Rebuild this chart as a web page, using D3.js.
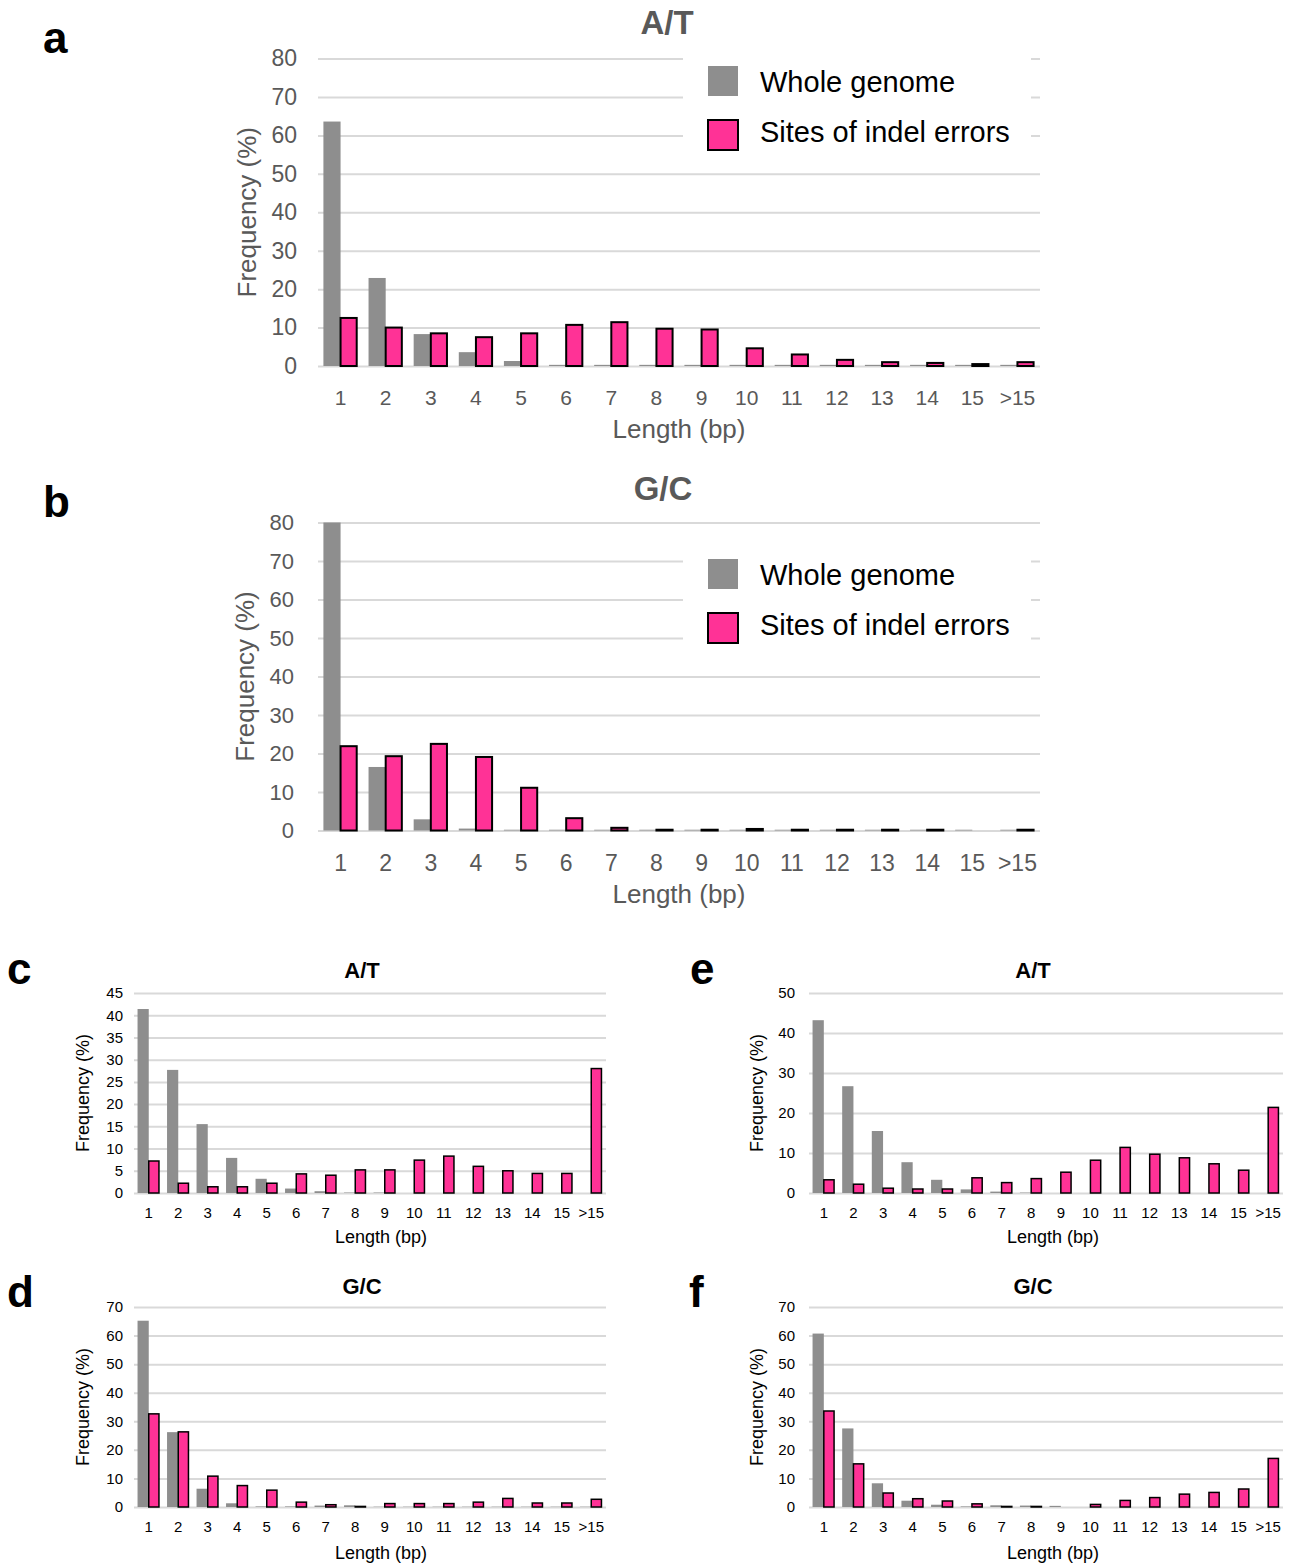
<!DOCTYPE html>
<html><head><meta charset="utf-8">
<script src="https://cdn.jsdelivr.net/npm/d3@7"></script>
<style>body{margin:0;background:#fff}svg{display:block}text{font-family:"Liberation Sans",Arial,sans-serif}</style>
</head><body>
<svg id="c" width="1295" height="1565"></svg>
<script>
const categories = ["1","2","3","4","5","6","7","8","9","10","11","12","13","14","15",">15"];
const seriesNames = ["Whole genome","Sites of indel errors"];

// panel a: A/T
const aWhole = [63.6,22.9,8.3,3.6,1.3,0.3,0.3,0.3,0.3,0.3,0.3,0.3,0.3,0.3,0.3,0.3];
const aIndel = [12.5,10.0,8.5,7.5,8.5,10.7,11.4,9.7,9.5,4.6,3.0,1.6,1.0,0.8,0.5,1.0];
// panel b: G/C
const bWhole = [80.0,16.5,2.9,0.5,0.2,0.2,0.2,0.2,0.2,0.2,0.2,0.2,0.2,0.2,0.2,0.2];
const bIndel = [21.9,19.3,22.5,19.1,11.1,3.2,0.7,0.2,0.2,0.4,0.2,0.2,0.2,0.2,0,0.2];
// panel c: A/T
const cWhole = [41.4,27.7,15.5,7.9,3.2,1.0,0.4,0.1,0.1,0,0,0,0,0,0,0];
const cIndel = [7.2,2.2,1.4,1.4,2.2,4.3,4.0,5.2,5.2,7.4,8.3,6.0,5.0,4.4,4.4,28.0];
// panel d: G/C
const dWhole = [65.2,26.2,6.4,1.3,0.2,0.2,0.5,0.6,0.1,0.1,0.1,0.1,0.1,0.1,0.1,0.1];
const dIndel = [32.6,26.3,10.8,7.5,5.9,1.7,0.8,0.2,1.2,1.2,1.2,1.7,3.0,1.4,1.4,2.7];
// panel e: A/T
const eWhole = [43.2,26.7,15.5,7.7,3.3,0.9,0.35,0.1,0,0,0,0,0,0,0,0];
const eIndel = [3.3,2.2,1.2,1.0,1.0,3.8,2.6,3.6,5.2,8.2,11.4,9.7,8.8,7.3,5.7,21.4];
// panel f: G/C
const fWhole = [60.7,27.5,8.3,2.2,0.8,0.2,0.6,0.5,0.4,0,0,0,0,0,0,0];
const fIndel = [33.6,15.1,4.9,2.9,2.1,1.1,0.2,0.2,0,0.9,2.3,3.3,4.5,5.1,6.3,17.0];

const yTicksA = [0,10,20,30,40,50,60,70,80];
const yTicksC = [0,5,10,15,20,25,30,35,40,45];
const yTicksE = [0,10,20,30,40,50];
const yTicksD = [0,10,20,30,40,50,60,70];

const GRAY = "#8e8e8e", PINK = "#ff3296", GRID = "#d9d9d9";
const svg = d3.select("#c");

function panel(o) {
  const x = d3.scaleBand().domain(categories).range([o.x0, o.x1]).paddingInner(0.24).paddingOuter(0.12);
  const sub = d3.scaleBand().domain(seriesNames).range([0, x.bandwidth()]);
  const y = d3.scaleLinear().domain([0, o.ymax]).range([o.y0, o.y1]);
  const g = svg.append("g");
  // grid + y tick labels
  const ya = g.append("g").attr("transform", `translate(${o.x0},0)`)
    .call(d3.axisLeft(y).tickValues(o.ticks).tickSize(-(o.x1 - o.x0)).tickPadding(o.tickPad).tickFormat(d3.format("d")));
  ya.select(".domain").remove();
  ya.selectAll(".tick line").attr("stroke", GRID).attr("stroke-width", o.gridW);
  ya.selectAll(".tick text").attr("fill", o.tc).style("font-size", o.yfs + "px").attr("font-family", "Liberation Sans, Arial, sans-serif");
  // x tick labels
  const xa = g.append("g").attr("transform", `translate(0,${o.y0})`)
    .call(d3.axisBottom(x).tickSize(0).tickPadding(o.xPad));
  xa.select(".domain").remove();
  xa.selectAll(".tick text").attr("fill", o.tc).style("font-size", o.xfs + "px").attr("font-family", "Liberation Sans, Arial, sans-serif");
  // bars
  const rows = categories.map((c, i) => ({c, w: o.whole[i], s: o.indel[i]}));
  g.append("g").selectAll("rect").data(rows).join("rect")
    .attr("x", d => x(d.c) + sub(seriesNames[0]))
    .attr("y", d => y(d.w)).attr("width", sub.bandwidth())
    .attr("height", d => y(0) - y(d.w)).attr("fill", GRAY);
  g.append("g").selectAll("rect").data(rows.filter(d => d.s > 0)).join("rect")
    .attr("x", d => x(d.c) + sub(seriesNames[1]))
    .attr("y", d => y(d.s)).attr("width", sub.bandwidth() - 1)
    .attr("height", d => y(0) - y(d.s)).attr("fill", PINK)
    .attr("stroke", "#000").attr("stroke-width", o.bs);
  // titles
  g.append("text").attr("x", o.titleX).attr("y", o.titleY).attr("text-anchor", "middle")
    .attr("font-weight", "bold").style("font-size", o.titleFs + "px").attr("fill", o.tc).text(o.title);
  g.append("text").attr("transform", `translate(${o.ylX},${(o.y0 + o.y1) / 2}) rotate(-90)`)
    .attr("text-anchor", "middle").style("font-size", o.ylFs + "px").attr("fill", o.tc).text("Frequency (%)");
  g.append("text").attr("x", o.xlX).attr("y", o.xlY).attr("text-anchor", "middle")
    .style("font-size", o.ylFs + "px").attr("fill", o.tc).text("Length (bp)");
  g.append("text").attr("x", o.letX).attr("y", o.letY).attr("font-weight", "bold")
    .style("font-size", "44px").attr("fill", "#000").text(o.letter);
  if (o.legend) {
    const L = o.legend;
    g.append("rect").attr("x", 683).attr("y", L.top).attr("width", 348).attr("height", 112).attr("fill", "#fff");
    seriesNames.forEach((n, i) => {
      g.append("rect").attr("x", 708).attr("y", L.top + 16 + i * 54).attr("width", 30).attr("height", 30)
        .attr("fill", i ? PINK : GRAY).attr("stroke", i ? "#000" : "none").attr("stroke-width", 2);
      g.append("text").attr("x", 760).attr("y", L.top + 42 + i * 50).style("font-size", "29px").attr("fill", "#000").text(n);
    });
  }
}

panel({letter:"a", letX:43, letY:53, title:"A/T", titleX:667, titleY:34, titleFs:33, tc:"#595959",
  x0:318, x1:1040, y0:366, y1:58.5, ymax:80, ticks:yTicksA, whole:aWhole, indel:aIndel,
  tickPad:21, yfs:23, xPad:24, xfs:21, ylX:256, ylFs:26, xlX:679, xlY:438, gridW:2, bs:2,
  legend:{top:50}});
panel({letter:"b", letX:43, letY:517, title:"G/C", titleX:663, titleY:500, titleFs:33, tc:"#595959",
  x0:318, x1:1040, y0:830.5, y1:522.5, ymax:80, ticks:yTicksA, whole:bWhole, indel:bIndel,
  tickPad:24, yfs:22, xPad:24, xfs:23, ylX:254, ylFs:26, xlX:679, xlY:903, gridW:2, bs:2,
  legend:{top:543}});
panel({letter:"c", letX:7, letY:984, title:"A/T", titleX:362, titleY:978, titleFs:22, tc:"#000",
  x0:134, x1:606, y0:1193, y1:993, ymax:45, ticks:yTicksC, whole:cWhole, indel:cIndel,
  tickPad:11, yfs:15, xPad:14, xfs:15, ylX:89, ylFs:18, xlX:381, xlY:1243, gridW:2, bs:1.5});
panel({letter:"d", letX:7, letY:1307, title:"G/C", titleX:362, titleY:1294, titleFs:22, tc:"#000",
  x0:134, x1:606, y0:1507, y1:1307, ymax:70, ticks:yTicksD, whole:dWhole, indel:dIndel,
  tickPad:11, yfs:15, xPad:14, xfs:15, ylX:89, ylFs:18, xlX:381, xlY:1559, gridW:2, bs:1.5});
panel({letter:"e", letX:690, letY:984, title:"A/T", titleX:1033, titleY:978, titleFs:22, tc:"#000",
  x0:809, x1:1283, y0:1193, y1:993, ymax:50, ticks:yTicksE, whole:eWhole, indel:eIndel,
  tickPad:14, yfs:15, xPad:14, xfs:15, ylX:763, ylFs:18, xlX:1053, xlY:1243, gridW:2, bs:1.5});
panel({letter:"f", letX:689, letY:1307, title:"G/C", titleX:1033, titleY:1294, titleFs:22, tc:"#000",
  x0:809, x1:1283, y0:1507, y1:1307, ymax:70, ticks:yTicksD, whole:fWhole, indel:fIndel,
  tickPad:14, yfs:15, xPad:14, xfs:15, ylX:763, ylFs:18, xlX:1053, xlY:1559, gridW:2, bs:1.5});
</script>
</body></html>
